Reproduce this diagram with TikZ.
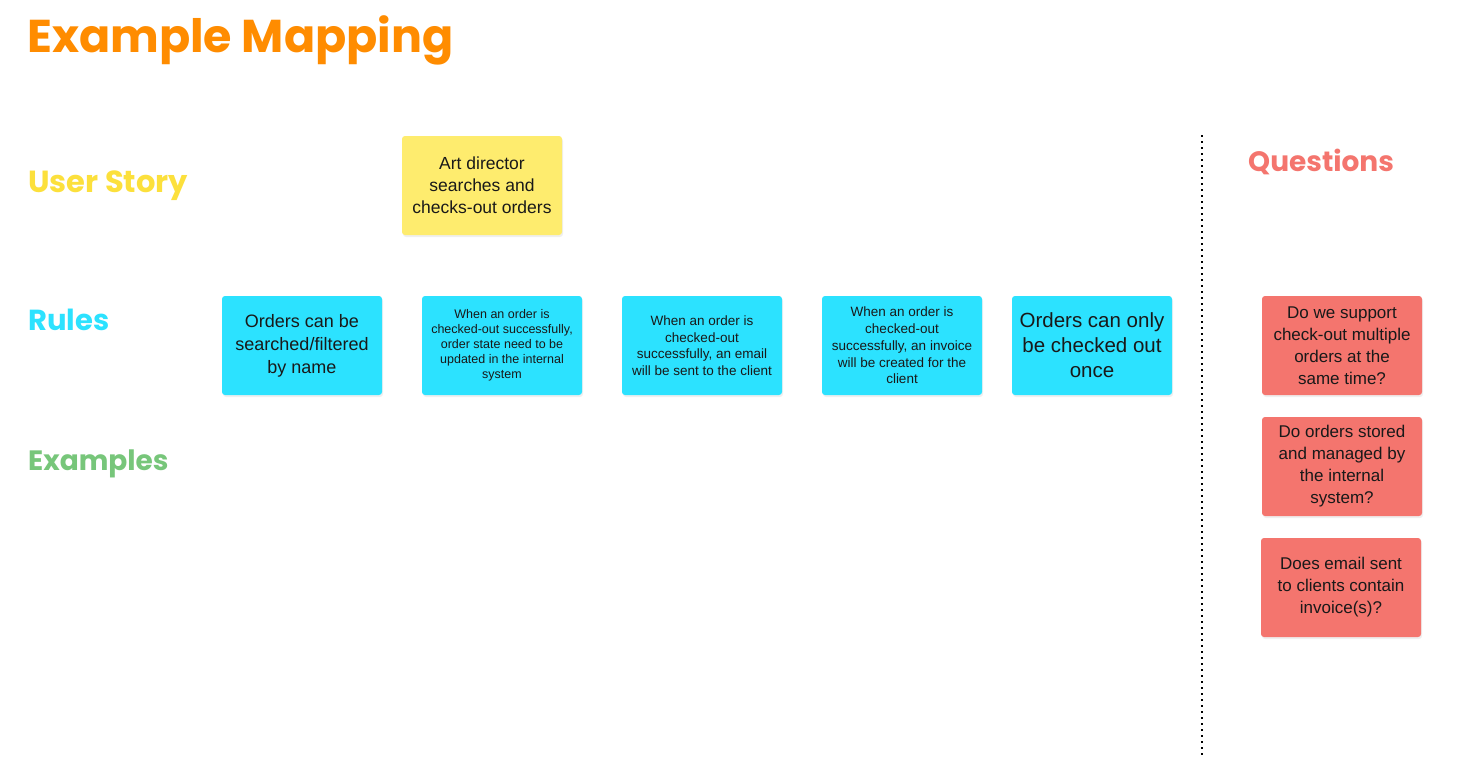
\documentclass[tikz,border=0pt]{standalone}
\usepackage{fontspec}
\setmainfont{Liberation Sans}
\newfontfamily\headfont{Poppins}
\usepackage{xcolor}
\usepackage{tikz}
\usetikzlibrary{positioning,shadows}

\definecolor{titleorange}{HTML}{FF8C00}
\definecolor{storyyellow}{HTML}{FCE03C}
\definecolor{notey}{HTML}{FEEC6E}
\definecolor{rulecyan}{HTML}{2CE2FF}
\definecolor{examplegreen}{HTML}{77C67A}
\definecolor{questred}{HTML}{F4756E}

\begin{document}
\begin{tikzpicture}[x=1pt,y=-1pt,
  sticky/.style={rounded corners=3pt,minimum width=160pt,minimum height=99pt,
    align=center,inner sep=2pt,outer sep=0pt,text=black!90,
    drop shadow={opacity=0.12,shadow xshift=1pt,shadow yshift=-2pt}},
  storynote/.style={sticky,fill=notey,font=\fontsize{17.5}{22}\selectfont},
  rulenote/.style={sticky,fill=rulecyan},
  questnote/.style={sticky,fill=questred,font=\fontsize{17}{22}\selectfont},
  heading/.style={anchor=base west,inner sep=0pt,font=\headfont\bfseries\fontsize{29}{34}\selectfont},
  divider/.style={line width=2pt,dash pattern=on 2pt off 4pt}]
  \path[fill=white,use as bounding box] (0,0) rectangle (1477,780);
  % Title and row headings
  \node[heading,text=titleorange,font=\headfont\bfseries\fontsize{46}{52}\selectfont]
    (title) at (27,52) {Example Mapping};
  \node[heading,text=storyyellow,font=\headfont\bfseries\fontsize{30.5}{34}\selectfont]
    (hstory) at (28,192) {User Story};
  \node[heading,text=rulecyan] (hrules) at (28,330) {Rules};
  \node[heading,text=examplegreen,font=\headfont\bfseries\fontsize{28}{34}\selectfont]
    (hexamples) at (28,470) {Examples};
  \node[heading,text=questred,font=\headfont\bfseries\fontsize{28}{34}\selectfont]
    (hquest) at (1248,171) {Questions};
  % User story
  \node[storynote] (story) at (482,185.5)
    {Art director\\searches and\\checks-out orders};
  % Rules
  \node[rulenote,font=\fontsize{18}{23}\selectfont] (rule1) at (302,345.5)
    {Orders can be\\searched/filtered\\by name};
  \node[rulenote,right=40pt of rule1,font=\fontsize{12.5}{15}\selectfont] (rule2)
    {When an order is\\checked-out successfully,\\order state need to be\\updated in the internal\\system};
  \node[rulenote,right=40pt of rule2,font=\fontsize{13.5}{16.5}\selectfont] (rule3)
    {When an order is\\checked-out\\successfully, an email\\will be sent to the client};
  \node[rulenote,right=40pt of rule3,font=\fontsize{13.5}{16.7}\selectfont] (rule4)
    {When an order is\\checked-out\\successfully, an invoice\\will be created for the\\client};
  \node[rulenote,right=30pt of rule4,font=\fontsize{20.5}{25}\selectfont] (rule5)
    {Orders can only\\be checked out\\once};
  % Divider
  \coordinate (divtop) at (1202,135);
  \coordinate (divbot) at (1202,755);
  \draw[divider] (divtop) -- (divbot);
  % Questions
  \node[questnote] (q1) at (1342,345.5)
    {Do we support\\check-out multiple\\orders at the\\same time?};
  \node[questnote,below=22pt of q1] (q2)
    {Do orders stored\\and managed by\\the internal\\system?};
  \node[questnote,below=22pt of q2,xshift=-1pt] (q3)
    {Does email sent\\to clients contain\\invoice(s)?};
\end{tikzpicture}
\end{document}
